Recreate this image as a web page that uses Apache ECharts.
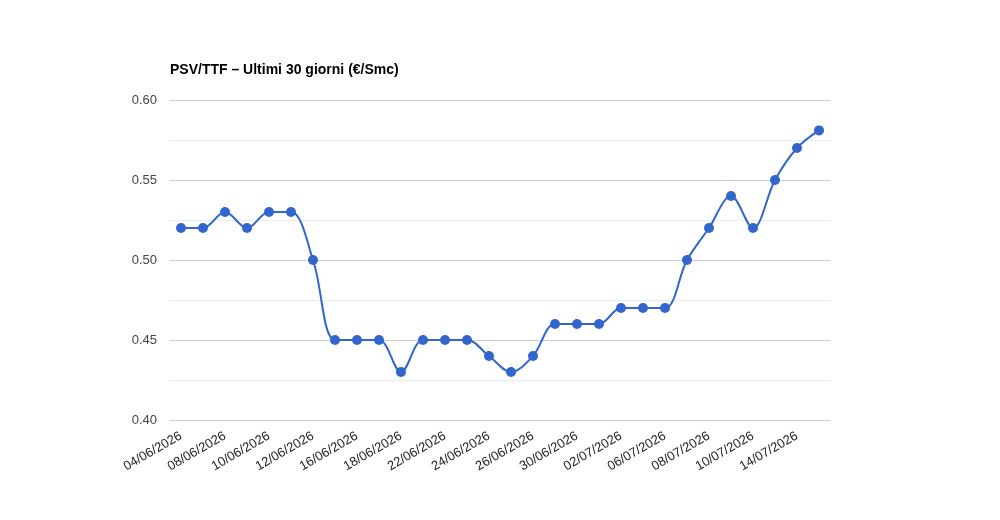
<!DOCTYPE html>
<html>
<head>
<meta charset="utf-8">
<style>
  html, body { margin: 0; padding: 0; background: #fff; }
  #chart { width: 1000px; height: 520px; }
</style>
<script src="https://cdn.jsdelivr.net/npm/echarts@6/dist/echarts.min.js"></script>
</head>
<body>
<div id="chart"></div>
<script>
const dates = [
  '04/06/2026', '05/06/2026', '08/06/2026', '09/06/2026', '10/06/2026',
  '11/06/2026', '12/06/2026', '15/06/2026', '16/06/2026', '17/06/2026',
  '18/06/2026', '19/06/2026', '22/06/2026', '23/06/2026', '24/06/2026',
  '25/06/2026', '26/06/2026', '29/06/2026', '30/06/2026', '01/07/2026',
  '02/07/2026', '03/07/2026', '06/07/2026', '07/07/2026', '08/07/2026',
  '09/07/2026', '10/07/2026', '13/07/2026', '14/07/2026', '15/07/2026'
]
const psvTtf = [
  0.52, 0.52, 0.53, 0.52, 0.53, 0.53, 0.50, 0.45, 0.45, 0.45,
  0.43, 0.45, 0.45, 0.45, 0.44, 0.43, 0.44, 0.46, 0.46, 0.46,
  0.47, 0.47, 0.47, 0.50, 0.52, 0.54, 0.52, 0.55, 0.57, 0.581
]

const chart = echarts.init(document.getElementById('chart'))
chart.setOption({
  animation: false,
  title: {
    text: 'PSV/TTF – Ultimi 30 giorni (€/Smc)',
    left: 165,
    top: 58,
    textStyle: { fontFamily: 'Arial, "Liberation Sans"', fontSize: 14, fontWeight: 'bold', color: '#000' }
  },
  grid: { left: 170, right: 170, top: 100, bottom: 100 },
  xAxis: {
    type: 'category',
    data: dates,
    boundaryGap: true,
    axisLine: { show: false },
    axisTick: { show: false },
    axisLabel: {
      interval: 1,
      rotate: 30,
      margin: 15,
      fontFamily: 'Arial, "Liberation Sans"',
      fontSize: 13,
      color: '#222'
    }
  },
  yAxis: {
    type: 'value',
    min: 0.4,
    max: 0.6,
    interval: 0.05,
    axisLine: { show: false },
    axisTick: { show: false },
    axisLabel: {
      formatter: (v) => v.toFixed(2),
      margin: 13,
      fontFamily: 'Arial, "Liberation Sans"',
      fontSize: 13,
      color: '#444'
    },
    splitLine: { lineStyle: { color: '#cccccc', width: 1 } },
    minorTick: { show: false, splitNumber: 2 },
    minorSplitLine: { show: true, lineStyle: { color: '#ebebeb', width: 1 } }
  },
  series: [
    {
      name: 'PSV/TTF',
      type: 'line',
      data: psvTtf,
      smooth: 0.35,
      symbol: 'circle',
      symbolSize: 10,
      lineStyle: { color: '#3366cc', width: 2 },
      itemStyle: { color: '#3366cc' }
    }
  ]
})
</script>
</body>
</html>
